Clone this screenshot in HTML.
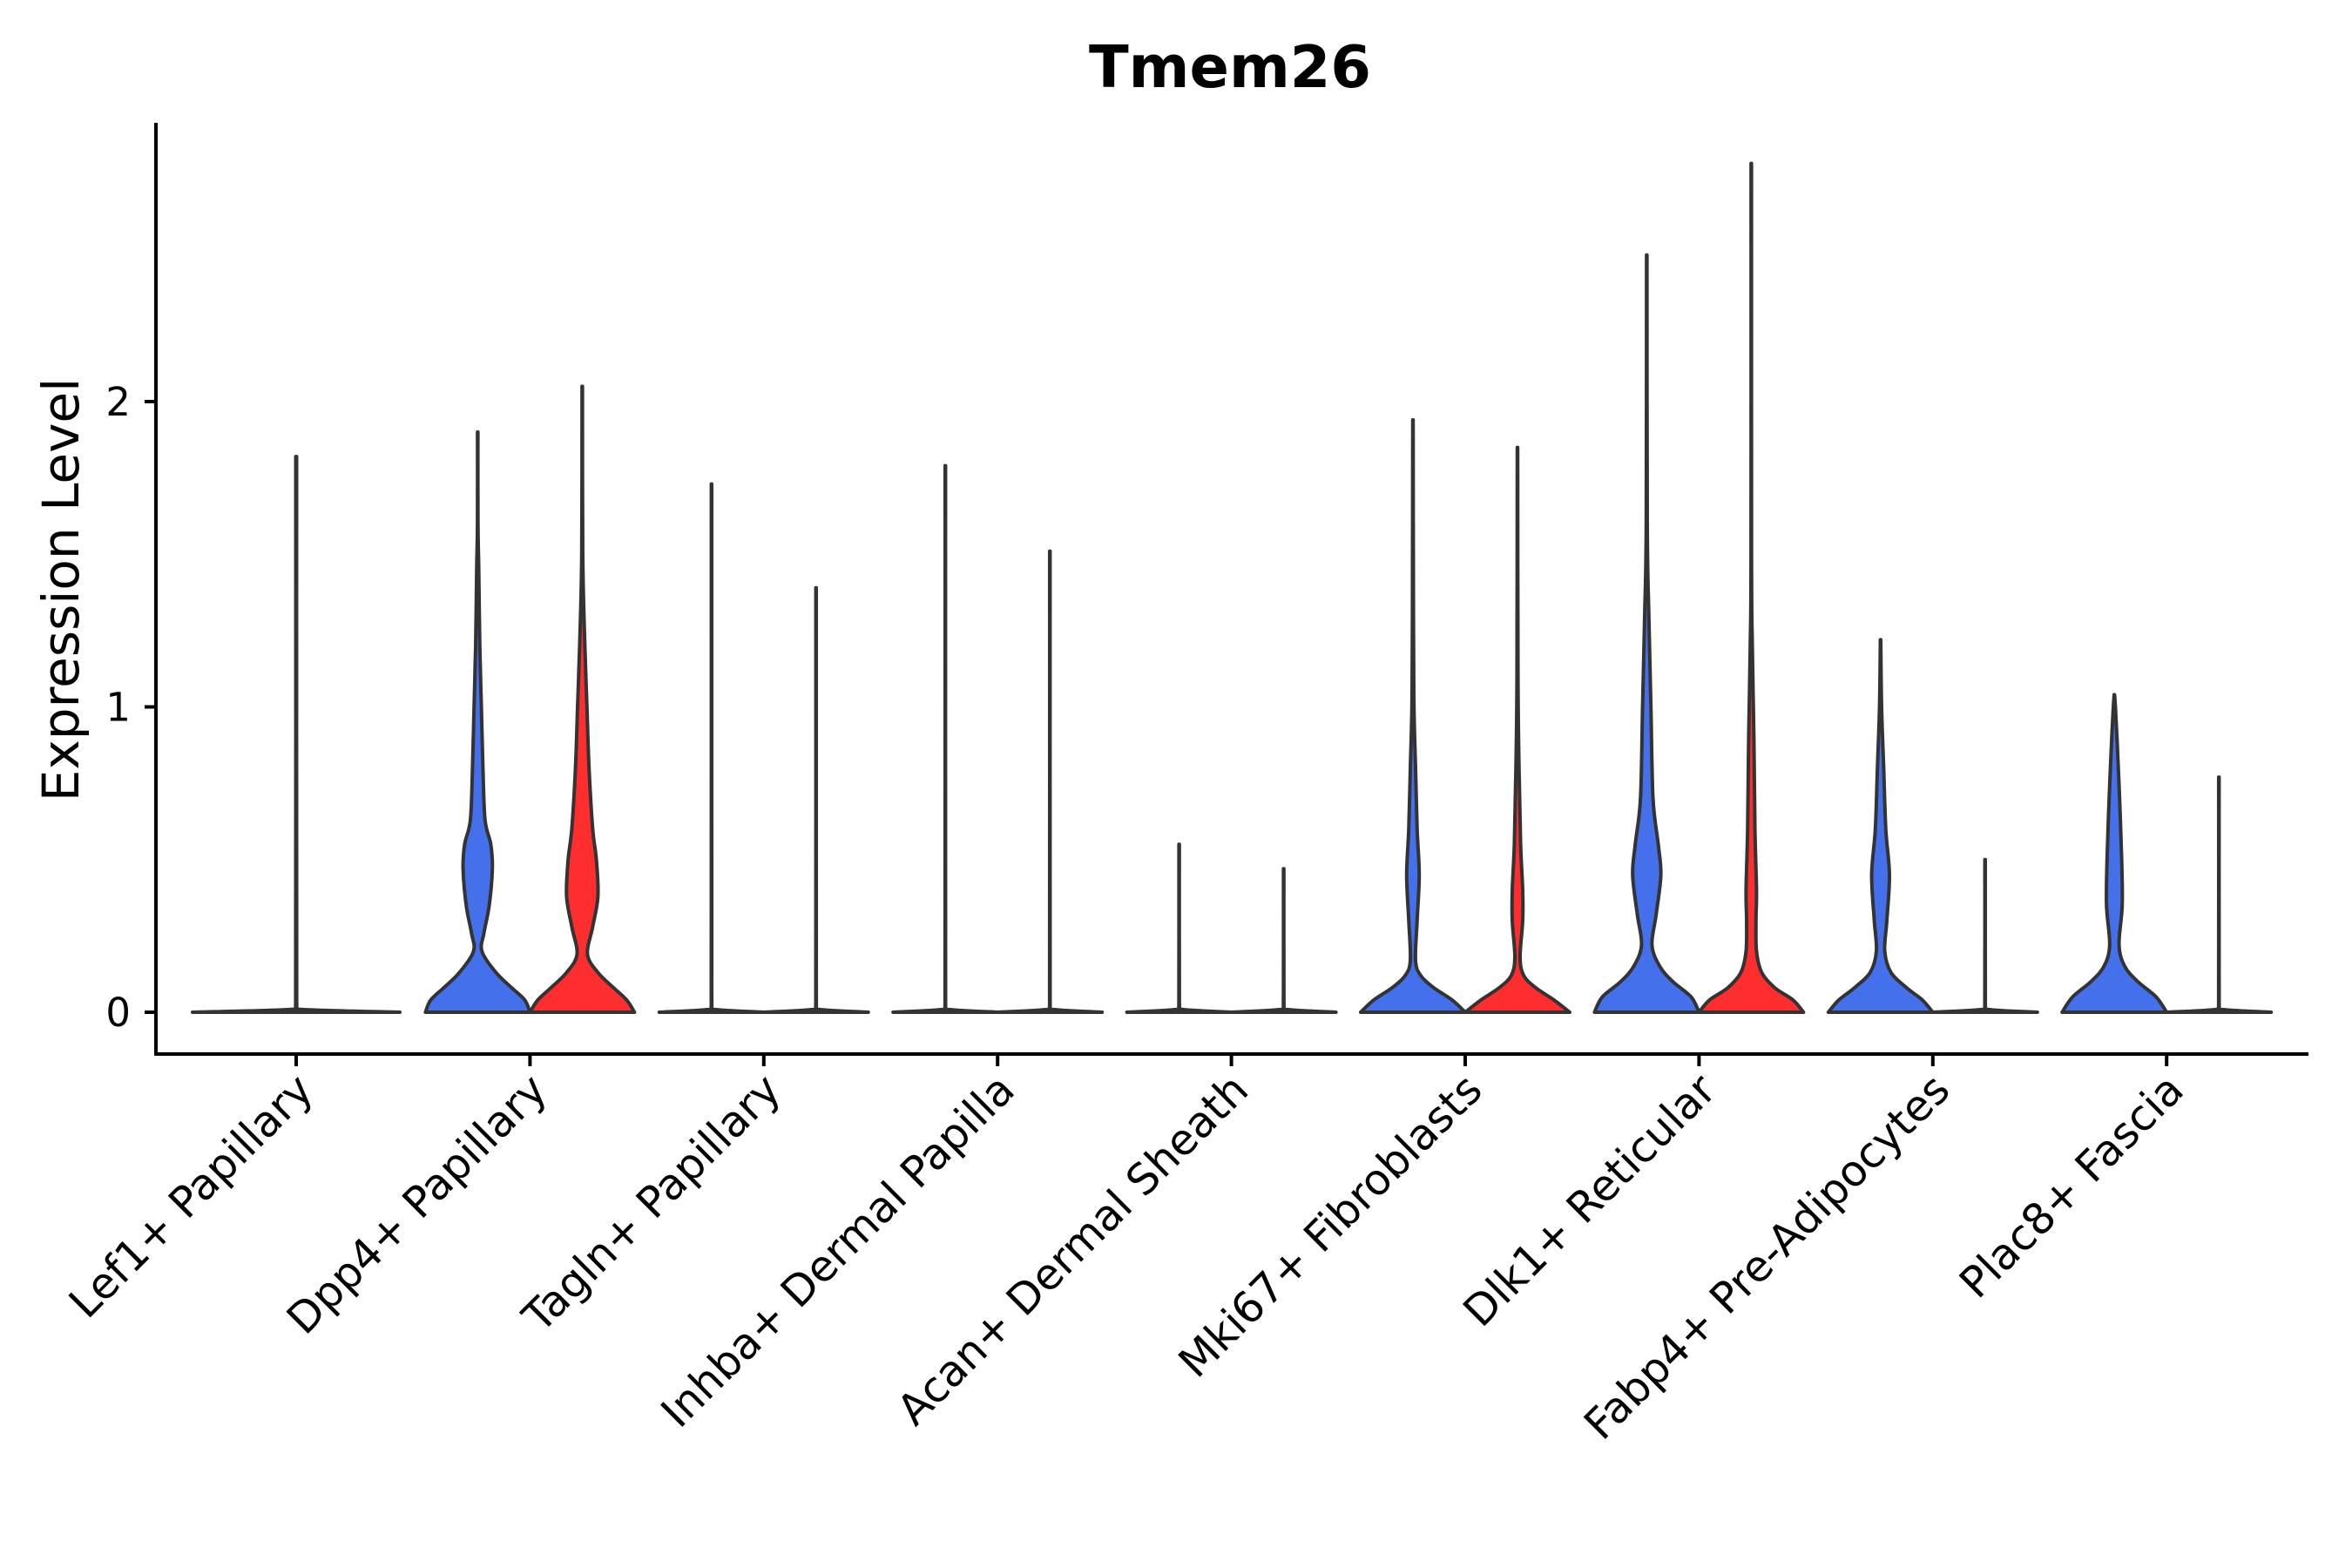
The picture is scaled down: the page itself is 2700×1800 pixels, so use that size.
<!DOCTYPE html>
<html><head><meta charset="utf-8"><style>
html,body{margin:0;padding:0;background:#fff;}
svg{display:block;font-family:"DejaVu Sans","Liberation Sans",sans-serif;}
</style></head><body>
<svg id="chart" width="2700" height="1800" viewBox="0 0 2700 1800">
<text x="1412" y="100" text-anchor="middle" font-size="67" font-weight="bold">Tmem26</text>
<text transform="translate(90,677) rotate(-90)" text-anchor="middle" font-size="58">Expression Level</text>
<g id="plot"></g>
</svg>
<script>
const categories = ["Lef1+ Papillary","Dpp4+ Papillary","Tagln+ Papillary","Inhba+ Dermal Papilla","Acan+ Dermal Sheath","Mki67+ Fibroblasts","Dlk1+ Reticular","Fabp4+ Pre-Adipocytes","Plac8+ Fascia"];
const yTicks = [0,1,2];
const yTickLabels = ["0","1","2"];
// max expression per group (null = group absent)
const blueMax = [1.82,1.90,1.73,1.79,0.55,1.94,2.48,1.22,1.04];
const redMax  = [null,2.05,1.39,1.51,0.47,1.85,2.78,0.50,0.77];
// density profiles: [value, relative half-width]
const flat = [[0,1],[0.01,0.02],[0.03,0.005]];
const blueProfiles = [
  flat,
  [[0,1],[0.04,0.9],[0.08,0.65],[0.13,0.35],[0.2,0.08],[0.26,0.12],[0.35,0.22],[0.47,0.28],[0.55,0.25],[0.63,0.14],[0.8,0.1],[1.0,0.07],[1.2,0.04],[1.45,0.02],[1.6,0.005]],
  flat, flat, flat,
  [[0,1],[0.04,0.75],[0.08,0.4],[0.12,0.15],[0.17,0.05],[0.3,0.08],[0.45,0.12],[0.6,0.08],[0.8,0.05],[1.0,0.02],[1.3,0.01]],
  [[0,1],[0.05,0.85],[0.1,0.5],[0.15,0.25],[0.22,0.1],[0.32,0.18],[0.45,0.27],[0.55,0.22],[0.7,0.12],[1.0,0.08],[1.3,0.04],[1.6,0.01]],
  [[0,1],[0.04,0.8],[0.08,0.5],[0.13,0.2],[0.2,0.08],[0.3,0.12],[0.45,0.17],[0.6,0.1],[0.8,0.06],[1.0,0.02]],
  [[0,1],[0.05,0.8],[0.1,0.45],[0.15,0.2],[0.22,0.09],[0.35,0.15],[0.5,0.14],[0.7,0.1],[0.9,0.05],[1.0,0.02]]
];
const redProfiles = [
  null,
  [[0,1],[0.04,0.85],[0.08,0.6],[0.13,0.3],[0.19,0.1],[0.28,0.2],[0.38,0.3],[0.5,0.27],[0.6,0.2],[0.8,0.13],[1.0,0.09],[1.2,0.05],[1.5,0.01]],
  flat, flat, flat,
  [[0,1],[0.04,0.7],[0.08,0.35],[0.12,0.12],[0.18,0.05],[0.3,0.1],[0.4,0.1],[0.55,0.06],[0.8,0.03],[1.1,0.01]],
  [[0,1],[0.04,0.8],[0.08,0.45],[0.13,0.2],[0.2,0.1],[0.3,0.09],[0.4,0.1],[0.6,0.07],[0.9,0.05],[1.2,0.02],[1.5,0.005]],
  flat, flat
];
const blueColor = "#4470ec", redColor = "#ff2e2e";

const NS = "http://www.w3.org/2000/svg";
const plot = document.getElementById("plot");
const x0 = 340, step = 268.4;
function xPos(i){ return x0 + i*step; }
function yPos(v){ return 1162 - v*350.5; }
function mk(tag, attrs){ const e=document.createElementNS(NS,tag); for(const k in attrs) e.setAttribute(k,attrs[k]); plot.appendChild(e); return e; }

// axes
let ax = mk("line",{x1:179,y1:141,x2:179,y2:1212,stroke:"#000","stroke-width":4});


let bx = mk("line",{x1:177,y1:1210,x2:2650,y2:1210,stroke:"#000","stroke-width":4});


yTicks.forEach((t,i)=>{
  const tk = mk("line",{x1:166,y1:yPos(t),x2:179,y2:yPos(t),stroke:"#000","stroke-width":4});
  
  
  const lb = mk("text",{x:150,y:yPos(t)+16,"text-anchor":"end","font-size":45});
  lb.textContent = yTickLabels[i];
  
  
});
categories.forEach((c,i)=>{
  const x = xPos(i);
  const tk = mk("line",{x1:x,y1:1210,x2:x,y2:1224,stroke:"#000","stroke-width":4});
  
  
  const lb = mk("text",{transform:`translate(${x+22},${1254}) rotate(-45)`,"text-anchor":"end","font-size":49});
  lb.textContent = c;
  
  
});

function violinPath(cx, hw, prof, max){
  const base = yPos(0);
  const pts = prof.filter(p=>p[0] < max).map(p=>[p[0],p[1]]);
  pts.push([max,0.004]);
  const right = pts.map(p=>[cx + p[1]*hw, yPos(p[0])]);
  const left = pts.slice().reverse().map(p=>[cx - p[1]*hw, yPos(p[0])]);
  function clamp(pt, side){
    let y = Math.min(pt[1], base);
    let x = side>0 ? Math.max(pt[0], cx) : Math.min(pt[0], cx);
    return [x,y];
  }
  function cr(arr, side){
    let s="";
    for(let k=0;k<arr.length-1;k++){
      const p0=arr[Math.max(0,k-1)], p1=arr[k], p2=arr[k+1], p3=arr[Math.min(arr.length-1,k+2)];
      const c1=clamp([p1[0]+(p2[0]-p0[0])/6, p1[1]+(p2[1]-p0[1])/6], side);
      const c2=clamp([p2[0]-(p3[0]-p1[0])/6, p2[1]-(p3[1]-p1[1])/6], side);
      s+=` C${c1[0]},${c1[1]} ${c2[0]},${c2[1]} ${p2[0]},${p2[1]}`;
    }
    return s;
  }
  let d = `M${left[left.length-1][0]},${base} L${right[0][0]},${base}`;
  d += cr(right, 1);
  d += ` L${left[0][0]},${left[0][1]}`;
  d += cr(left, -1);
  d += " Z";
  return d;
}

categories.forEach((c,i)=>{
  const x = xPos(i);
  if(redMax[i]===null){
    const p = mk("path",{d:violinPath(x,119,blueProfiles[i],blueMax[i]),fill:blueColor,stroke:"#333","stroke-width":4,"stroke-linejoin":"round"});
    
    
  } else {
    const pb = mk("path",{d:violinPath(x-60,60,blueProfiles[i],blueMax[i]),fill:blueColor,stroke:"#333","stroke-width":4,"stroke-linejoin":"round"});
    
    
    const pr = mk("path",{d:violinPath(x+60,60,redProfiles[i],redMax[i]),fill:redColor,stroke:"#333","stroke-width":4,"stroke-linejoin":"round"});
    
    
  }
});
</script>
</body></html>
